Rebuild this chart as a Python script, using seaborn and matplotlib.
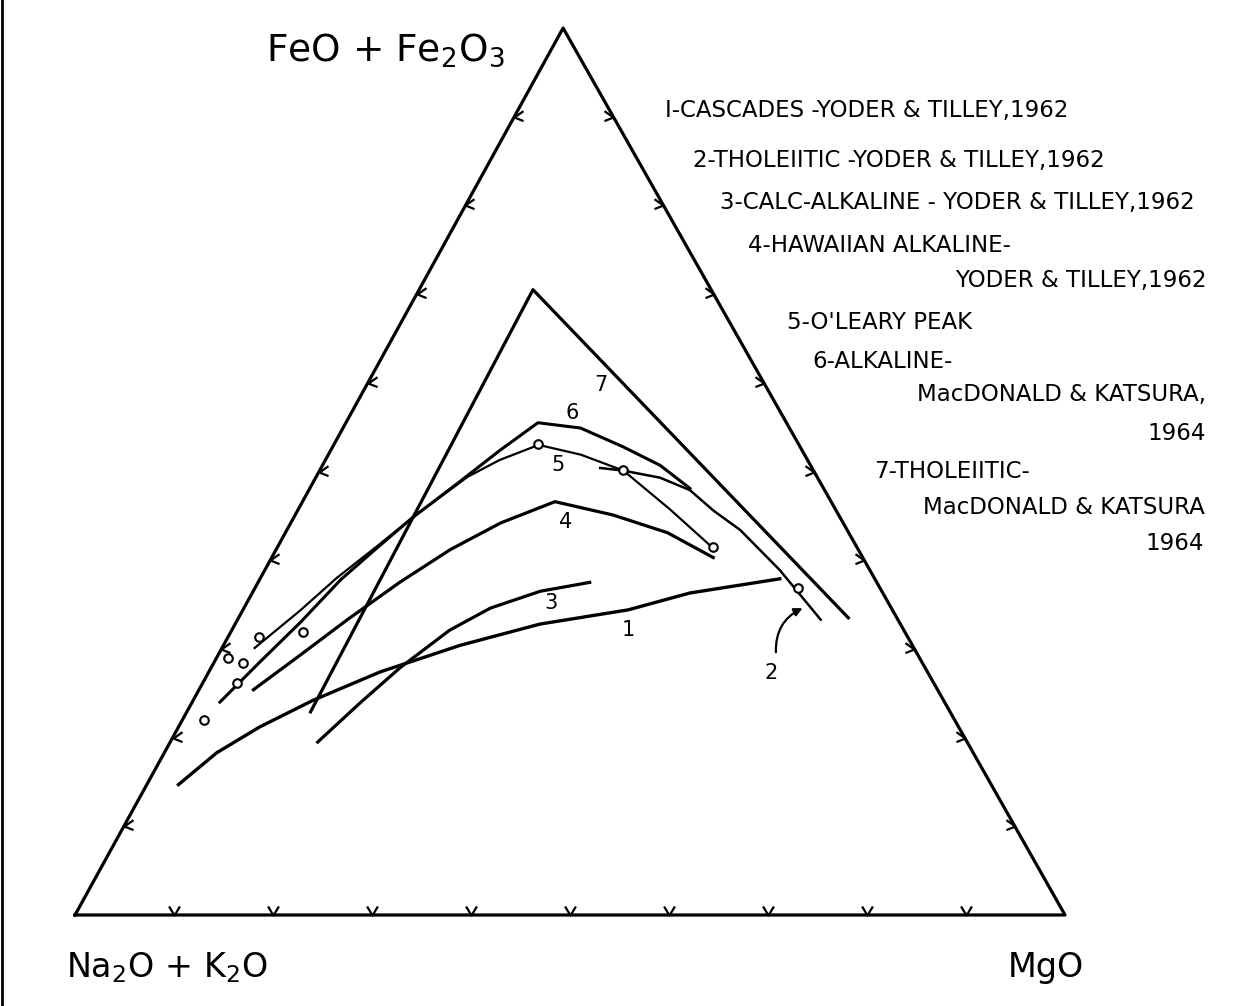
import matplotlib
matplotlib.use('Agg')
import matplotlib.pyplot as plt
from matplotlib.path import Path
from matplotlib.lines import Line2D
import pandas as pd
import seaborn as sns

# AFM diagram: F = FeO+Fe2O3, M = MgO, A = Na2O+K2O = 100 - F - M  (wt %)
cascades_f = [14.7, 18.3, 21.2, 24.2, 27.4, 30.4, 32.8, 34.4, 36.3, 37.9]
cascades_m = [3.2, 5.3, 8.2, 12.1, 17.3, 23.9, 30.8, 38.9, 44.2, 52.5]

thol_yt_f = [50.4, 50.1, 49.3, 47.9, 45.6, 43.4, 38.9, 33.3]
thol_yt_m = [28.2, 30.7, 34.8, 38.5, 42.0, 45.8, 52.0, 58.9]

calc_f = [19.5, 23.9, 27.9, 32.1, 34.6, 36.5, 37.5]
calc_m = [14.9, 17.0, 19.1, 22.0, 24.9, 29.0, 33.5]

hawaii_f = [25.4, 29.3, 33.3, 37.5, 41.2, 44.2, 46.6, 45.1, 43.1, 40.3]
hawaii_m = [5.5, 8.3, 11.1, 14.3, 17.6, 21.2, 25.5, 32.1, 38.6, 44.6]

oleary_f = [30.1, 34.3, 38.0, 41.4, 44.8, 49.4, 51.3, 53.0, 51.9, 50.1, 45.7, 41.4]
oleary_m = [3.3, 5.8, 7.7, 9.9, 12.0, 15.3, 17.6, 20.7, 25.5, 30.7, 37.6, 44.0]

alk_mk_f = [24.0, 28.5, 33.0, 37.8, 41.2, 44.8, 48.9, 52.4, 55.5, 54.9, 52.8, 50.7, 48.1]
alk_mk_m = [2.8, 4.6, 6.5, 8.2, 10.0, 12.0, 14.8, 17.1, 19.4, 24.0, 29.3, 34.1, 38.4]

thol_mk_f = [22.9, 70.5, 33.5]
thol_mk_m = [12.5, 11.5, 61.6]

# O'Leary Peak analyses (open circles)
samples_f = [22.0, 29.0, 26.2, 28.4, 31.3, 31.9, 53.1, 50.2, 41.5, 36.9]
samples_m = [2.2, 1.2, 3.4, 3.0, 3.2, 7.3, 20.6, 30.6, 44.0, 54.8]

tick_pct = [10, 20, 30, 40, 50, 60, 70, 80, 90]

legend_lines = ["I-CASCADES -YODER & TILLEY,1962",
                "2-THOLEIITIC -YODER & TILLEY,1962",
                "3-CALC-ALKALINE - YODER & TILLEY,1962",
                "4-HAWAIIAN ALKALINE-",
                "YODER & TILLEY,1962",
                "5-O'LEARY PEAK",
                "6-ALKALINE-",
                "MacDONALD & KATSURA,",
                "1964",
                "7-THOLEIITIC-",
                "MacDONALD & KATSURA",
                "1964"]

SKEW = 0.493  # apex of the drawn triangle sits slightly left of centre


def xy(f, m):
    return [mm + SKEW * ff for ff, mm in zip(f, m)], list(f)


fig = plt.figure(figsize=(12.34, 10.06), dpi=100)
ax = fig.add_axes([0, 0, 1, 1])
ax.set_xlim(-7.58, 117.07)
ax.set_ylim(-10.26, 103.16)
ax.axis('off')

# outer triangle
tx, ty = xy([0, 0, 100, 0], [0, 100, 0, 0])
sns.lineplot(x=tx, y=ty, sort=False, estimator=None, color='black', lw=2.3, ax=ax)

curves = [(cascades_f, cascades_m, 2.4),
          (thol_yt_f, thol_yt_m, 1.8),
          (calc_f, calc_m, 2.3),
          (hawaii_f, hawaii_m, 2.3),
          (oleary_f, oleary_m, 1.6),
          (alk_mk_f, alk_mk_m, 2.2),
          (thol_mk_f, thol_mk_m, 2.3)]
for f, m, lw in curves:
    cx, cy = xy(f, m)
    df = pd.DataFrame({'x': cx, 'y': cy})
    sns.lineplot(data=df, x='x', y='y', sort=False, estimator=None,
                 color='black', lw=lw, ax=ax)

sx, sy = xy(samples_f, samples_m)
sns.scatterplot(x=sx, y=sy, s=38, facecolor='white', edgecolor='black',
                linewidth=1.5, zorder=5, ax=ax)

# tick marks every 10 %
v_mark = Path([(-0.6, 1.0), (0, 0), (0.6, 1.0)])
l_mark = Path([(1.0, 0.7), (0, 0), (1.0, -0.4)])
r_mark = Path([(-1.0, 0.7), (0, 0), (-1.0, -0.4)])
bx, by = xy([0] * 9, tick_pct)
lx, ly = xy(tick_pct, [0] * 9)
rx, ry = xy(tick_pct, [100 - t for t in tick_pct])
for px_, py_, mk in [(bx, by, v_mark), (lx, ly, l_mark), (rx, ry, r_mark)]:
    ax.plot(px_, py_, ls='none', marker=mk, markersize=13, markerfacecolor='none',
            markeredgecolor='black', markeredgewidth=1.6)


def ftext(x, y, s, **kw):
    fig.text(x / 1234, 1 - y / 1006, s, **kw)


ftext(266, 50, r"FeO + Fe$_2$O$_3$", fontsize=27, va='center', ha='left')
ftext(66, 968, r"Na$_2$O + K$_2$O", fontsize=24, va='center', ha='left')
ftext(1008, 968, "MgO", fontsize=24, va='center', ha='left')

legend_pos = [(665, 110), (693, 160), (720, 203), (748, 245), (955, 280),
              (787, 323), (812, 362), (917, 395), (1147, 433), (874, 471),
              (923, 507), (1145, 544)]
for (lx_, ly_), s in zip(legend_pos, legend_lines):
    ftext(lx_, ly_, s, fontsize=16.5, va='center', ha='left')

curve_labels = [("7", 601, 385), ("6", 572, 413), ("5", 558, 465),
                ("4", 566, 522), ("3", 551, 603), ("1", 628, 630), ("2", 771, 673)]
for s, x, y in curve_labels:
    ftext(x, y, s, fontsize=15, va='center', ha='center')

# wavy pointer to curve 2
ax.annotate("", xy=((805 - 75) / 9.9, (915 - 607) / 8.87),
            xytext=((776 - 75) / 9.9, (915 - 655) / 8.87),
            arrowprops=dict(arrowstyle='-|>', color='black', lw=1.6,
                            connectionstyle='arc3,rad=-0.35', mutation_scale=12))

# edge of the scanned sheet
fig.add_artist(Line2D([0.002, 0.002], [0, 1], color='black', lw=2))

fig.savefig('out.png', dpi=100, facecolor='white')
